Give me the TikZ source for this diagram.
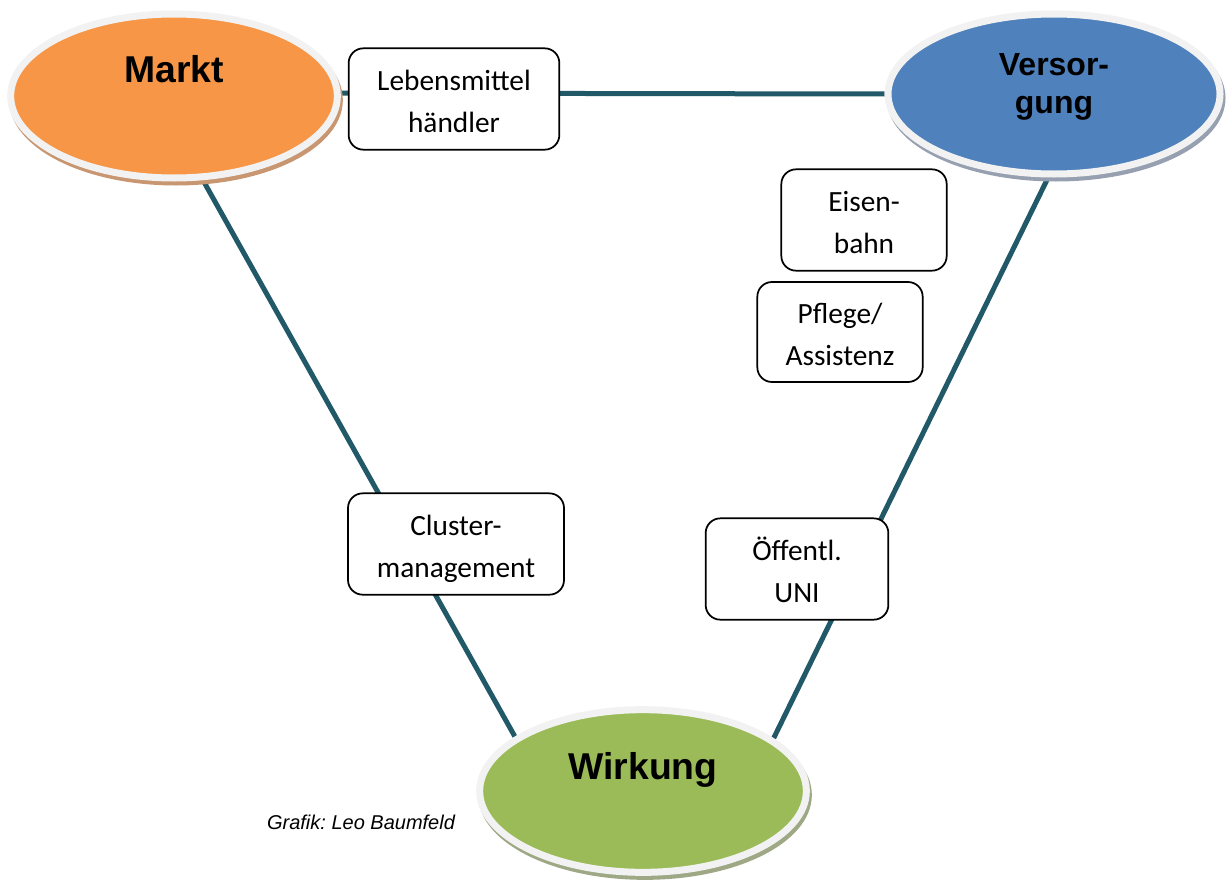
\documentclass[tikz,border=0pt]{standalone}
\usepackage{fontspec}
\setmainfont{Carlito}
\newfontfamily\arialfont{Liberation Sans}
\usepackage{tikz}
\usetikzlibrary{shapes.geometric,backgrounds}
\frenchspacing

\definecolor{marktorange}{RGB}{247,150,70}
\definecolor{marktshadow}{RGB}{200,150,112}
\definecolor{versorgblue}{RGB}{79,129,189}
\definecolor{versorgshadow}{RGB}{150,160,176}
\definecolor{wirkgreen}{RGB}{155,187,89}
\definecolor{wirkshadow}{RGB}{158,168,132}
\definecolor{rimgray}{RGB}{242,242,242}
\definecolor{linkteal}{RGB}{33,89,104}

% two lines of box text, with fixed top and bottom
\def\twolines#1#2{\rule{0pt}{24.5pt}#1\\#2\rule[-6pt]{0pt}{6pt}}

\tikzset{
  hub/.style 2 args={ellipse, draw=rimgray, line width=5.25pt, fill=#1,
    minimum width=245pt, minimum height=123pt, inner sep=0pt,
    preaction={draw=#2, fill=#2, transform canvas={shift={(2,4)}}}},
  hubtext/.style={font=\arialfont\bfseries\fontsize{28}{30}\selectfont, align=center},
  box/.style={draw=black, line width=1.3pt, rounded corners=11pt, fill=white,
    align=center, inner sep=0pt, font=\fontsize{22}{31}\selectfont},
  link/.style={draw=linkteal, line width=3.75pt},
  credit/.style={font=\arialfont\itshape\fontsize{15}{18}\selectfont}
}

\begin{document}
\begin{tikzpicture}[x=0.75pt,y=-0.75pt]
\useasboundingbox (0,0) rectangle (1226,881);
% three poles
\node[hub={marktorange}{marktshadow}] (markt) at (174,96) {};
\node[hub={versorgblue}{versorgshadow}, minimum width=249pt, minimum height=120pt] (versorgung) at (1054,94) {};
\node[hub={wirkgreen}{wirkshadow}, minimum height=122pt] (wirkung) at (643,791) {};
\node[hubtext] (markt-t) at ([yshift=20.5pt]markt.center) {Markt};
\node[hubtext, font=\arialfont\bfseries\fontsize{24}{28.5}\selectfont] (versorgung-t) at ([yshift=5pt]versorgung.center) {Versor-\\gung};
\node[hubtext] (wirkung-t) at ([yshift=16pt]wirkung.center) {Wirkung};
% actors
\node[box, minimum width=158pt, minimum height=76pt] (haendler) at (454,99) {\twolines{Lebensmittel}{händler}};
\node[box, minimum width=124pt, minimum height=76pt] (eisenbahn) at (864,220) {\twolines{Eisen-}{bahn}};
\node[box, minimum width=124pt, minimum height=75pt] (pflege) at (840,332) {\twolines{Pflege/}{Assistenz}};
\node[box, minimum width=162pt, minimum height=76pt] (cluster) at (456,544) {\twolines{Cluster-}{management}};
\node[box, minimum width=137pt, minimum height=76pt] (uni) at (797,569) {\twolines{Öffentl.}{UNI}};
% links behind everything
\begin{scope}[on background layer]
\draw[link] (markt.1) -- (versorgung.180);
\draw[link] (markt.-71) -- (wirkung.157);
\draw[link] (versorgung.-94) -- (wirkung.22);
\end{scope}
\node[credit] (credit) at (361,822) {Grafik: Leo Baumfeld};
\end{tikzpicture}
\end{document}
